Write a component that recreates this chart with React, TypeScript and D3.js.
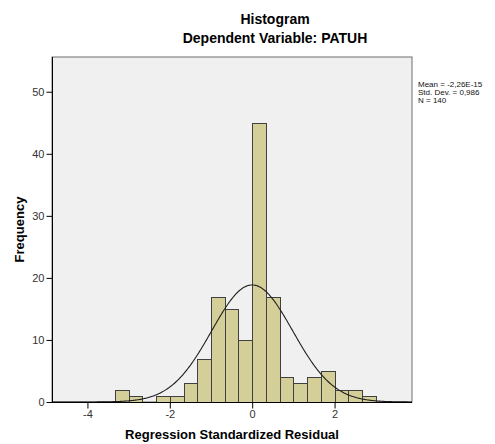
import React, { useEffect, useRef } from "react";
import * as d3 from "d3";

// histogram bins of the regression standardized residual (edges, then counts)
const binEdges = [
  -3.333, -3.0, -2.667, -2.333, -2.0, -1.667, -1.333, -1.0, -0.667, -0.333, 0.0,
  0.333, 0.667, 1.0, 1.333, 1.667, 2.0, 2.333, 2.667, 3.0,
];
const counts = [2, 1, 0, 1, 1, 3, 7, 17, 15, 10, 45, 17, 4, 3, 4, 5, 2, 2, 1];

const xTicks = [-4, -2, 0, 2];
const yTicks = [0, 10, 20, 30, 40, 50];
const statLines = ["Mean = -2,26E-15", "Std. Dev. = 0,986", "N = 140"];

const mean = -2.26e-15;
const stdDev = 0.986;
const total = 140;

const App = () => {
  const ref = useRef<SVGSVGElement>(null);

  useEffect(() => {
    const width = 495,
      height = 444;
    const left = 52,
      right = 412,
      top = 57,
      bottom = 402;
    const font = "'Liberation Sans', Arial, sans-serif";

    const svg = d3.select(ref.current);
    svg.selectAll("*").remove();
    svg.attr("width", width).attr("height", height);

    svg.append("rect").attr("width", width).attr("height", height).attr("fill", "#fff");

    const x = d3.scaleLinear().domain([-4.86, 3.88]).range([left, right]);
    const y = d3.scaleLinear().domain([0, 55.6]).range([bottom, top]);

    // plot background
    svg
      .append("rect")
      .attr("x", left)
      .attr("y", top)
      .attr("width", right - left)
      .attr("height", bottom - top)
      .attr("fill", "#f0f0f0")
      .attr("stroke", "#6e6e6e")
      .attr("stroke-width", 1);

    // bars (empty bins are not drawn)
    const bins = counts
      .map((c, i) => ({ x0: binEdges[i], x1: binEdges[i + 1], c }))
      .filter((d) => d.c > 0);

    svg
      .append("g")
      .selectAll("rect")
      .data(bins)
      .enter()
      .append("rect")
      .attr("x", (d) => Math.round(x(d.x0)) + 0.5)
      .attr("y", (d) => Math.round(y(d.c)) + 0.5)
      .attr("width", (d) => Math.round(x(d.x1)) - Math.round(x(d.x0)))
      .attr("height", (d) => Math.round(y(0)) - Math.round(y(d.c)))
      .attr("fill", "#d4cf98")
      .attr("stroke", "#404040")
      .attr("stroke-width", 1);

    // normal curve
    const binWidth = binEdges[1] - binEdges[0];
    const curvePts = d3.range(x.domain()[0], x.domain()[1] + 0.001, 0.02);
    const normal = (v: number) =>
      ((total * binWidth) / (stdDev * Math.sqrt(2 * Math.PI))) *
      Math.exp(-((v - mean) ** 2) / (2 * stdDev * stdDev));
    const line = d3
      .line<number>()
      .x((d) => x(d))
      .y((d) => y(normal(d)));
    svg
      .append("path")
      .attr("d", line(curvePts))
      .attr("fill", "none")
      .attr("stroke", "#1e1e1e")
      .attr("stroke-width", 1.1);

    // axes
    const yAxis = svg
      .append("g")
      .attr("transform", `translate(${left + 0.5},0)`)
      .call(d3.axisLeft(y).tickValues(yTicks).tickSize(6).tickPadding(2).tickFormat((d) => String(d)));
    const xAxis = svg
      .append("g")
      .attr("transform", `translate(0,${bottom + 0.5})`)
      .call(d3.axisBottom(x).tickValues(xTicks).tickSize(6).tickPadding(2).tickFormat((d) => String(d)));

    [yAxis, xAxis].forEach((a) => {
      a.select(".domain").attr("stroke", "#000");
      a.selectAll(".tick line").attr("stroke", "#000");
      a.selectAll(".tick text")
        .attr("fill", "#333")
        .style("font-family", font)
        .style("font-size", "11px");
    });
    yAxis.select(".domain").attr("d", `M0,${top}V${bottom}`);
    xAxis.select(".domain").attr("d", `M${left},0H${right}`);

    // titles
    svg
      .append("text")
      .attr("x", 275)
      .attr("y", 24)
      .attr("text-anchor", "middle")
      .style("font-family", font)
      .style("font-size", "14px")
      .style("font-weight", "bold")
      .text("Histogram");
    svg
      .append("text")
      .attr("x", 275)
      .attr("y", 43)
      .attr("text-anchor", "middle")
      .style("font-family", font)
      .style("font-size", "14px")
      .style("font-weight", "bold")
      .text("Dependent Variable: PATUH");

    svg
      .append("text")
      .attr("x", (left + right) / 2)
      .attr("y", 439)
      .attr("text-anchor", "middle")
      .style("font-family", font)
      .style("font-size", "13px")
      .style("font-weight", "bold")
      .text("Regression Standardized Residual");

    svg
      .append("text")
      .attr("transform", `translate(24,${(top + bottom) / 2}) rotate(-90)`)
      .attr("text-anchor", "middle")
      .style("font-family", font)
      .style("font-size", "13px")
      .style("font-weight", "bold")
      .text("Frequency");

    // stats box
    svg
      .append("g")
      .selectAll("text")
      .data(statLines)
      .enter()
      .append("text")
      .attr("x", 418)
      .attr("y", (d, i) => 87 + i * 8)
      .style("font-family", font)
      .style("font-size", "8px")
      .attr("fill", "#111")
      .text((d) => d);
  }, []);

  return <svg ref={ref} style={{ position: "absolute", left: 0, top: 0 }}></svg>;
};

export default App;
